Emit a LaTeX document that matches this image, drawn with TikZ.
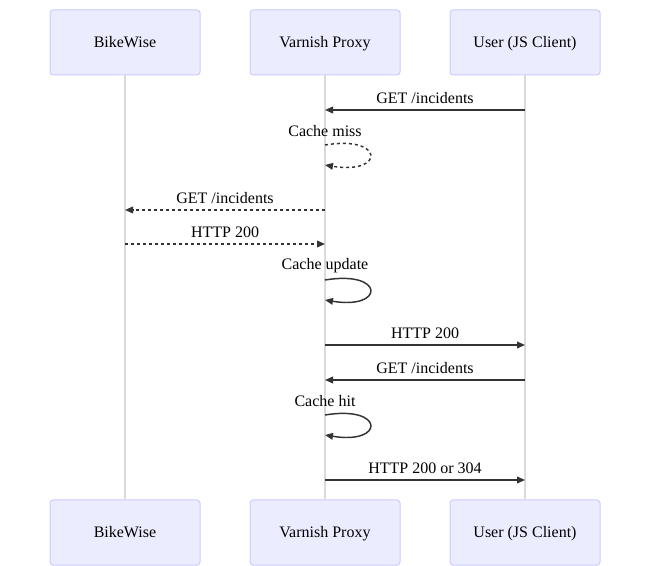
\documentclass[tikz,border=0pt]{standalone}
\usepackage{fontspec}
\setmainfont{Liberation Serif}
\usetikzlibrary{arrows.meta}
\definecolor{actorfill}{HTML}{ECECFF}
\definecolor{actorline}{HTML}{CCCCFF}
\definecolor{msgline}{HTML}{333333}
\definecolor{lifegray}{HTML}{DADADA}
\tikzstyle{every node}=[font=\fontsize{12}{14}\selectfont, text=black]
\tikzstyle{actor}=[draw=actorline, fill=actorfill, rounded corners=2.25pt, line width=0.75pt, minimum width=112.5pt, minimum height=48.75pt, text depth=1.5pt]
\tikzstyle{lifeline}=[draw=lifegray, line width=0.9pt]
\tikzstyle{msg}=[draw=msgline, line width=1.1pt, -{Triangle[length=6pt, width=5pt]}]
\tikzstyle{reply}=[msg, dash pattern=on 2.25pt off 2.25pt]
\tikzstyle{label}=[inner sep=2pt]

\begin{document}
\begin{tikzpicture}[x=0.75pt, y=-0.75pt]
    \useasboundingbox (0,0) rectangle (650,566);
    % participants
    \node   [actor]   (bike)     at (125,42.5)  {BikeWise};
    \node   [actor]   (varnish)  at (325,42.5)  {Varnish Proxy};
    \node   [actor]   (user)     at (525,42.5)  {User (JS Client)};
    \node   [actor]   (bikeB)    at (125,532.5) {BikeWise};
    \node   [actor]   (varnishB) at (325,532.5) {Varnish Proxy};
    \node   [actor]   (userB)    at (525,532.5) {User (JS Client)};
    \draw[lifeline] (bike)--(bikeB);
    \draw[lifeline] (varnish)--(varnishB);
    \draw[lifeline] (user)--(userB);

    % points on the lifelines
    \coordinate (u1) at (525,110);  \coordinate (v1) at (325,110);
    \coordinate (v2) at (325,145);  \coordinate (v2e) at (325,165);
    \coordinate (v3) at (325,210);  \coordinate (b3) at (125,210);
    \coordinate (b4) at (125,244);  \coordinate (v4) at (325,244);
    \coordinate (v5) at (325,280);  \coordinate (v5e) at (325,300);
    \coordinate (v6) at (325,345);  \coordinate (u6) at (525,345);
    \coordinate (u7) at (525,380);  \coordinate (v7) at (325,380);
    \coordinate (v8) at (325,415);  \coordinate (v8e) at (325,435);
    \coordinate (v9) at (325,480);  \coordinate (u9) at (525,480);

    % messages
    \draw[msg] (u1)--node[label, above=2.5pt] {GET /incidents} (v1);
    \node [label] (miss) at (325,131) {Cache miss};
    \draw[reply] (v2) .. controls (385,135) and (385,175) .. (v2e);
    \draw[reply] (v3)--node[label, above=2.5pt] {GET /incidents} (b3);
    \draw[reply] (b4)--node[label, above=2.5pt] {HTTP 200} (v4);
    \node [label] (update) at (325,266) {Cache update};
    \draw[msg] (v5) .. controls (385,270) and (385,310) .. (v5e);
    \draw[msg] (v6)--node[label, above=2.5pt] {HTTP 200} (u6);
    \draw[msg] (u7)--node[label, above=2.5pt] {GET /incidents} (v7);
    \node [label] (hit) at (325,401) {Cache hit};
    \draw[msg] (v8) .. controls (385,405) and (385,445) .. (v8e);
    \draw[msg] (v9)--node[label, above=2.5pt] {HTTP 200 or 304} (u9);

\end{tikzpicture}
\end{document}
